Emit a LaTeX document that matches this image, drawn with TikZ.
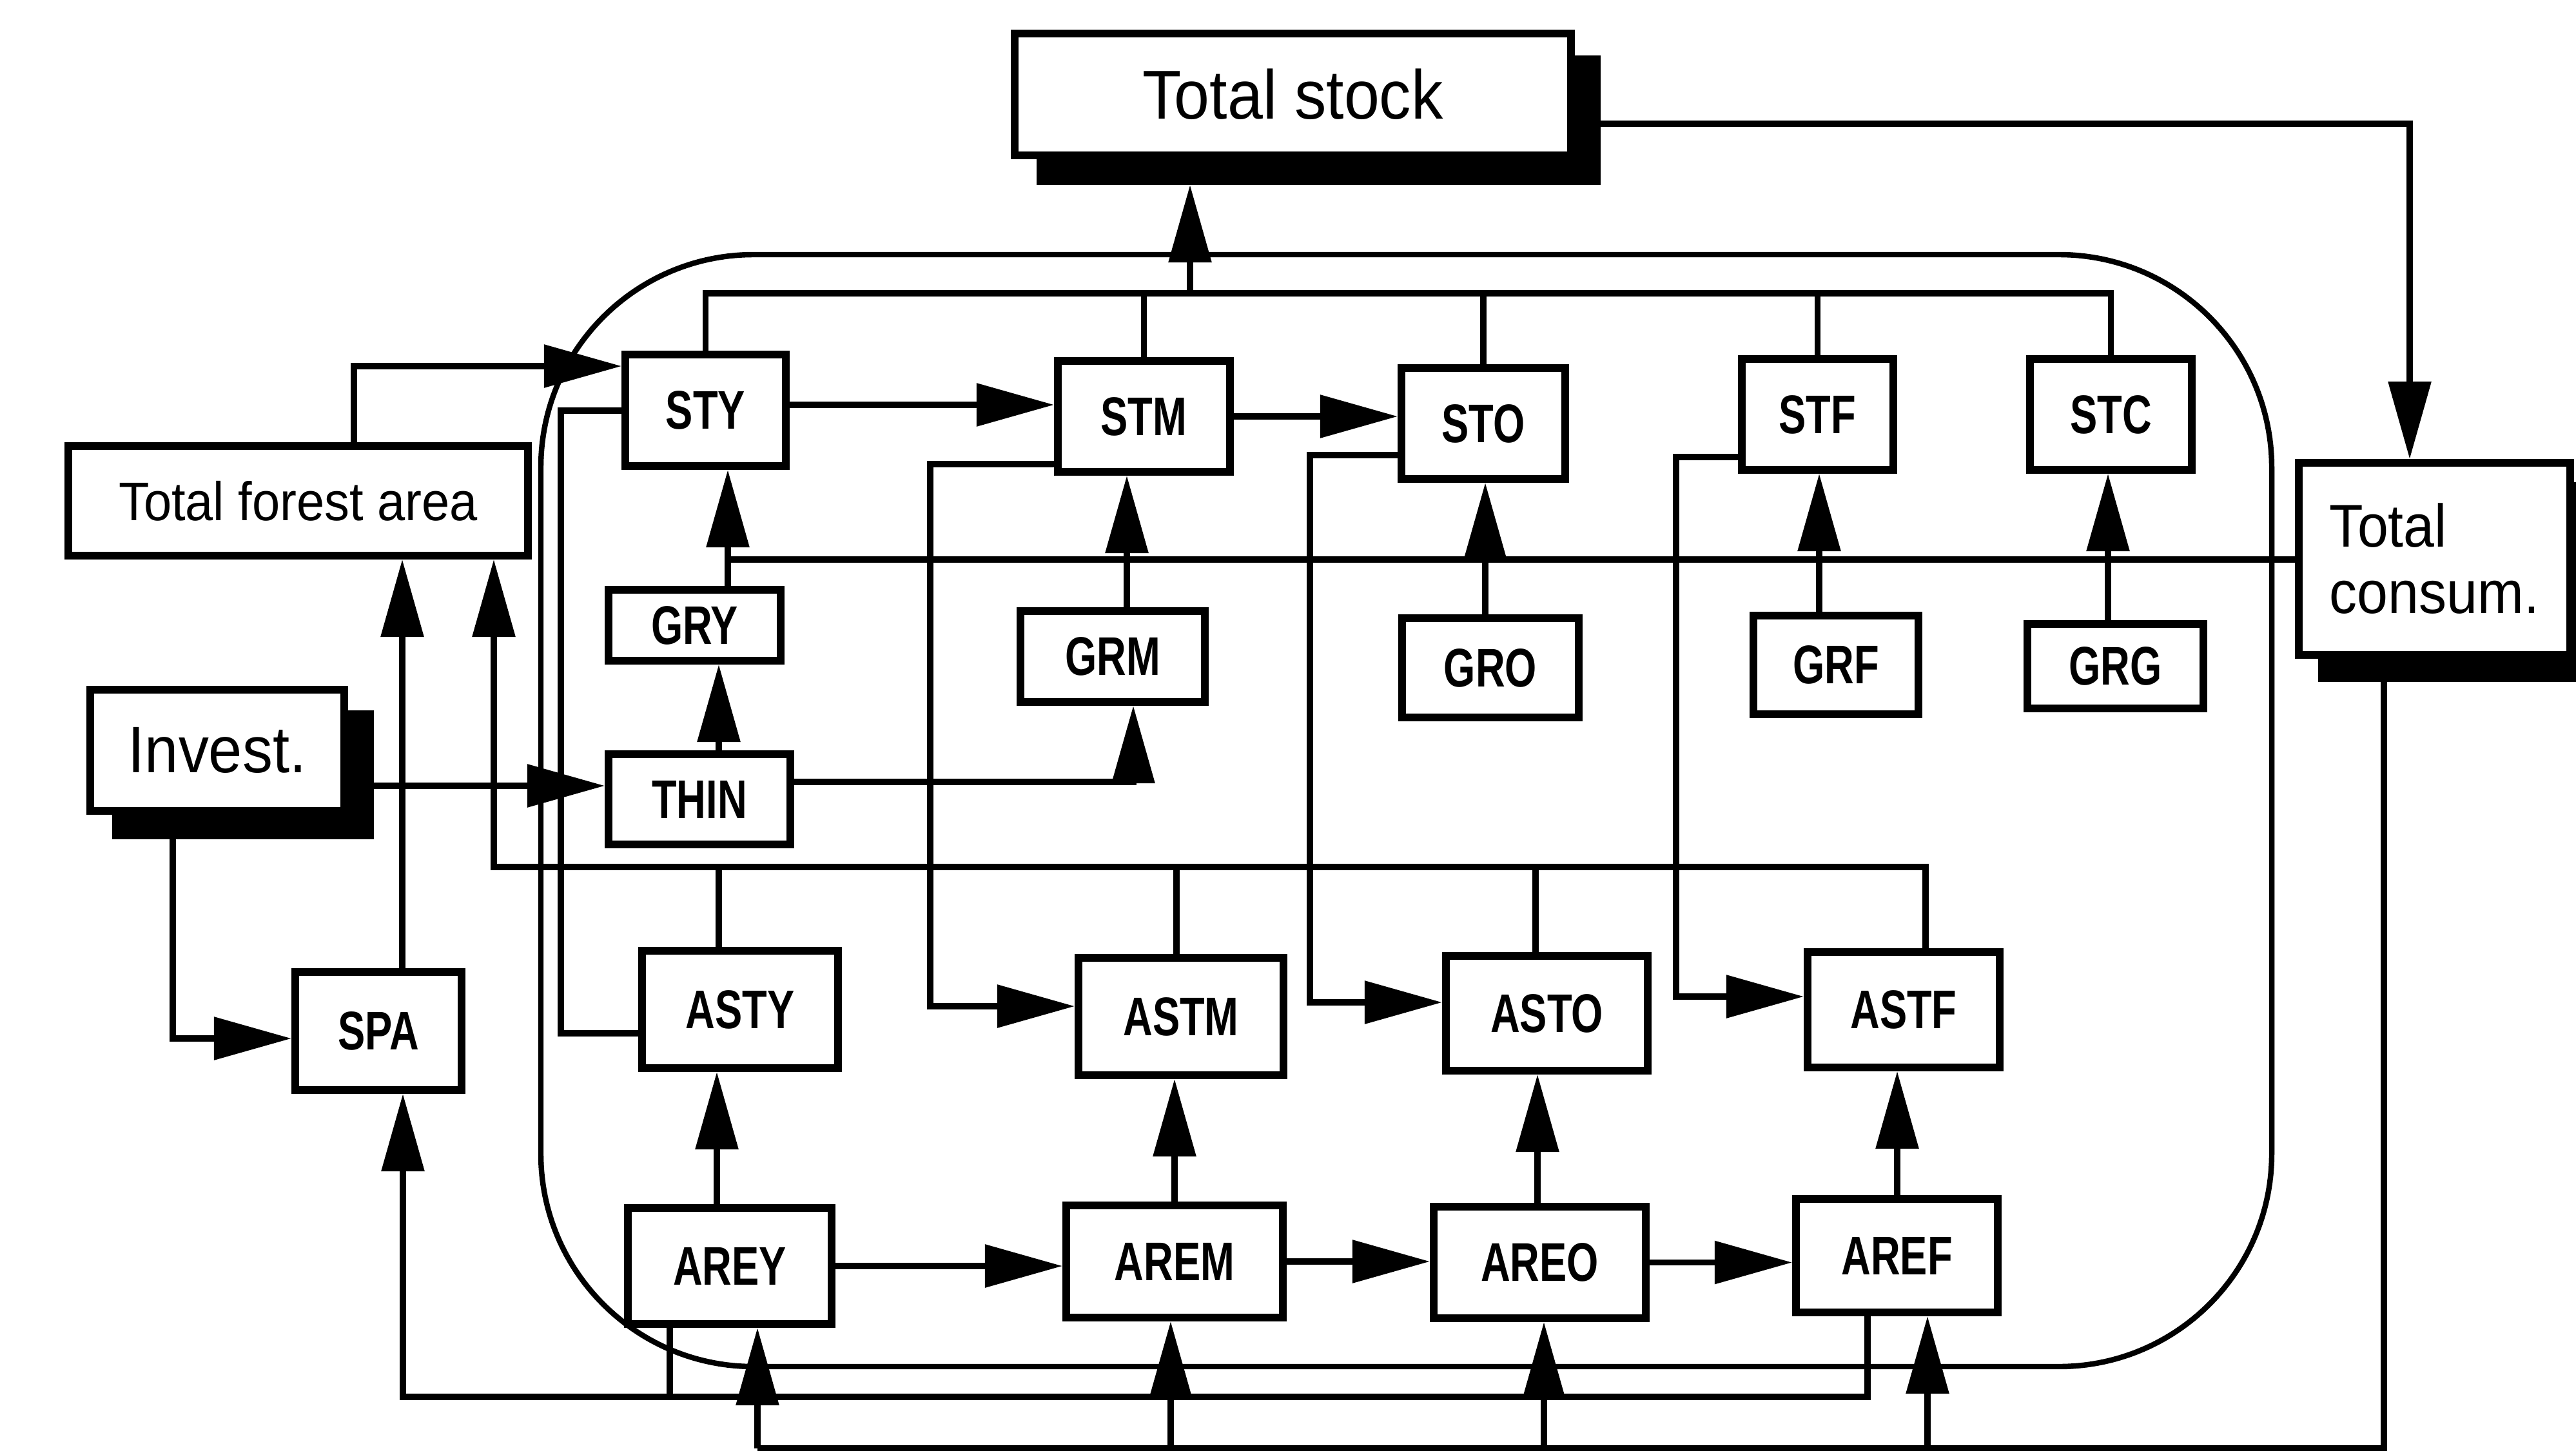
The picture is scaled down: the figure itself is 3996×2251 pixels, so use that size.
\documentclass[tikz,border=0pt]{standalone}
\usepackage{fontspec}
\setmainfont{Liberation Sans}
\newfontfamily\bigfont[FakeStretch=0.92]{Liberation Sans}
\newfontfamily\smallfont[FakeStretch=0.75]{Liberation Sans}
\usetikzlibrary{arrows.meta}
\begin{document}
\begin{tikzpicture}[x=0.01cm,y=-0.01cm,
  conn/.style={line width=2.6pt},
  arr/.style={conn,-{Triangle[length=1.2cm,width=0.65cm]}},
  sz/.style n args={2}{minimum width=#1*0.01cm,minimum height=#2*0.01cm},
  box/.style={draw,line width=3.4pt,fill=white,inner sep=0pt,
    font=\smallfont\bfseries\fontsize{24}{28}\selectfont},
  bigbox/.style={draw,line width=3.4pt,fill=white,inner sep=0pt},
  shad/.style={fill=black,draw=none,inner sep=0pt,outer sep=0pt},
  frame/.style={draw,line width=2.4pt,rounded corners=3.3cm,inner sep=0pt}]
\useasboundingbox (0,0) rectangle (3996,2251);
% frame
\node[frame,sz={2685}{1725}] (frame) at (2181.5,1257.5) {};
% shadows
\node[shad,sz={875}{201}] (TSs) at (2045.5,186.5) {};
\node[shad,sz={406}{200}] (INVs) at (377,1202) {};
\node[shad,sz={433}{310}] (TCs) at (3812.5,903) {};
% big boxes
\node[bigbox,sz={863}{189},font=\bigfont\fontsize{30.5}{34}\selectfont] (TS) at (2005.5,146.5) {Total stock};
\node[bigbox,sz={394}{188},font=\bigfont\fontsize{29}{33}\selectfont] (INV) at (337,1164) {Invest.};
\node[bigbox,sz={421}{298},align=left,font=\bigfont\fontsize{26.6}{29.3}\selectfont] (TC) at (3776.5,867) {Total\\consum.};
\node[bigbox,sz={713}{170},font=\bigfont\fontsize{24}{28}\selectfont] (TFA) at (462.5,777) {Total forest area};
% small boxes
\node[box,sz={249}{173}] (STY) at (1094.5,636.5) {STY};
\node[box,sz={267}{172}] (STM) at (1774.5,646) {STM};
\node[box,sz={254}{172}] (STO) at (2301,657) {STO};
\node[box,sz={235}{172}] (STF) at (2819.5,643) {STF};
\node[box,sz={251}{172}] (STC) at (3274.5,643) {STC};
\node[box,sz={267}{110}] (GRY) at (1077.5,970) {GRY};
\node[box,sz={286}{141}] (GRM) at (1726,1018.5) {GRM};
\node[box,sz={274}{154}] (GRO) at (2312,1036) {GRO};
\node[box,sz={256}{153}] (GRF) at (2848,1031.5) {GRF};
\node[box,sz={273}{131}] (GRG) at (3281.5,1033.5) {GRG};
\node[box,sz={282}{140}] (THIN) at (1085,1240) {THIN};
\node[box,sz={258}{183}] (SPA) at (587,1599.5) {SPA};
\node[box,sz={304}{182}] (ASTY) at (1148,1566) {ASTY};
\node[box,sz={318}{182}] (ASTM) at (1832,1577) {ASTM};
\node[box,sz={313}{178}] (ASTO) at (2399.5,1572) {ASTO};
\node[box,sz={298}{179}] (ASTF) at (2953,1566.5) {ASTF};
\node[box,sz={316}{180}] (AREY) at (1132,1964) {AREY};
\node[box,sz={336}{174}] (AREM) at (1822,1957) {AREM};
\node[box,sz={329}{173}] (AREO) at (2388.5,1958.5) {AREO};
\node[box,sz={313}{176}] (AREF) at (2942.5,1948) {AREF};
% junction points
\coordinate (kTop) at (1846,455);
\coordinate (kTC) at (3738,192);
\coordinate (kTFA) at (549,568);
\coordinate (kAY1) at (870,637);
\coordinate (kAY2) at (870,1603);
\coordinate (kM1) at (1443,720);
\coordinate (kM2) at (1443,1561);
\coordinate (kO1) at (2032,706);
\coordinate (kO2) at (2032,1555);
\coordinate (kF1) at (2600,709);
\coordinate (kF2) at (2600,1546);
\coordinate (kG) at (1129,868);
\coordinate (kGM) at (1748,868);
\coordinate (kGO) at (2304,868);
\coordinate (kGF) at (2822,868);
\coordinate (kGG) at (3270,868);
\coordinate (kTG) at (1115,1100);
\coordinate (kTM) at (1758,1213);
\coordinate (kIT) at (700,1219);
\coordinate (kIS) at (268,1611);
\coordinate (kSP) at (624,1000);
\coordinate (kAS) at (766,1345);
\coordinate (kAS1) at (1115,1345);
\coordinate (kAS2) at (1825,1345);
\coordinate (kAS3) at (2382,1345);
\coordinate (kAS4) at (2987,1345);
\coordinate (kSB) at (625,2167);
\coordinate (kB1) at (1039,2167);
\coordinate (kB2) at (2897,2167);
\coordinate (kC1) at (3698,2247);
\coordinate (kC0) at (1175,2247);
\coordinate (kC2) at (1816,2247);
\coordinate (kC3) at (2395,2247);
\coordinate (kC4) at (2990,2247);
\coordinate (kU1) at (1112,1800);
\coordinate (kU2) at (1822,1800);
\coordinate (kU3) at (2385,1800);
\coordinate (kU4) at (2943,1800);
\coordinate (kS1) at (1300,628);
% stock collector
\draw[conn] (STY.north) |- (kTop) -| (STC.north);
\draw[conn] (STM.north) -- (STM.north |- kTop);
\draw[conn] (STO.north) -- (STO.north |- kTop);
\draw[conn] (STF.north) -- (STF.north |- kTop);
\draw[arr] (kTop) -- (TSs.south -| kTop);
\draw[arr] (TSs.east |- kTC) -- (kTC) -- (TC.north -| kTC);
% left side
\draw[arr] (TFA.north -| kTFA) |- (STY.west |- kTFA);
\draw[conn] (ASTY.west |- kAY2) -- (kAY2) -- (kAY1) -- (STY.west |- kAY1);
\draw[arr] (STM.west |- kM1) -- (kM1) -- (kM2) -- (ASTM.west |- kM2);
\draw[arr] (STO.west |- kO1) -- (kO1) -- (kO2) -- (ASTO.west |- kO2);
\draw[arr] (STF.west |- kF1) -- (kF1) -- (kF2) -- (ASTF.west |- kF2);
% growth
\draw[conn] (TC.west |- kG) -- (kG);
\draw[arr] (GRY.north -| kG) -- (STY.south -| kG);
\draw[arr] (GRM.north -| kGM) -- (STM.south -| kGM);
\draw[arr] (GRO.north -| kGO) -- (STO.south -| kGO);
\draw[arr] (GRF.north -| kGF) -- (STF.south -| kGF);
\draw[arr] (GRG.north -| kGG) -- (STC.south -| kGG);
\draw[arr] (THIN.north -| kTG) -- (GRY.south -| kTG);
\draw[arr] (THIN.east |- kTM) -| (GRM.south -| kTM);
% investment
\draw[arr] (INVs.east |- kIT) -- (THIN.west |- kIT);
\draw[arr] (INVs.south -| kIS) |- (SPA.west |- kIS);
\draw[arr] (SPA.north -| kSP) -- (TFA.south -| kSP);
% area sum
\draw[arr] (ASTF.north -| kAS4) -- (kAS4) -- (kAS) -- (TFA.south -| kAS);
\draw[conn] (ASTY.north -| kAS1) -- (kAS1);
\draw[conn] (ASTM.north -| kAS2) -- (kAS2);
\draw[conn] (ASTO.north -| kAS3) -- (kAS3);
% bottom
\draw[arr] (AREF.south -| kB2) -- (kB2) -- (kSB) -- (SPA.south -| kSB);
\draw[conn] (AREY.south -| kB1) -- (kB1);
\draw[conn] (TCs.south -| kC1) -- (kC1) -- (kC0);
\draw[arr] (kC0) -- (AREY.south -| kC0);
\draw[arr] (kC2) -- (AREM.south -| kC2);
\draw[arr] (kC3) -- (AREO.south -| kC3);
\draw[arr] (kC4) -- (AREF.south -| kC4);
\draw[arr] (AREY.north -| kU1) -- (ASTY.south -| kU1);
\draw[arr] (AREM.north -| kU2) -- (ASTM.south -| kU2);
\draw[arr] (AREO.north -| kU3) -- (ASTO.south -| kU3);
\draw[arr] (AREF.north -| kU4) -- (ASTF.south -| kU4);
\draw[arr] (AREY.east) -- (AREM.west |- AREY.east);
\draw[arr] (AREM.east) -- (AREO.west |- AREM.east);
\draw[arr] (AREO.east) -- (AREF.west |- AREO.east);
\draw[arr] (STY.east |- kS1) -- (STM.west |- kS1);
\draw[arr] (STM.east) -- (STO.west |- STM.east);
\end{tikzpicture}
\end{document}
